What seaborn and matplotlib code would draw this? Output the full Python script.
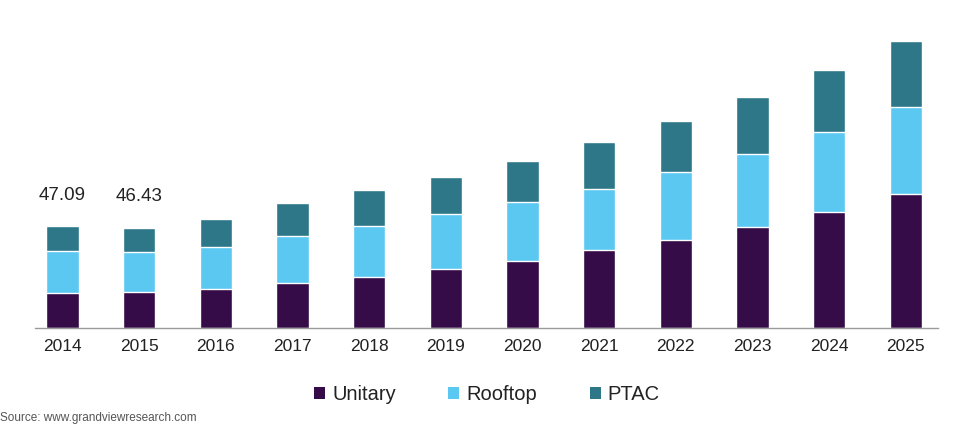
import matplotlib
matplotlib.use("Agg")
import matplotlib.pyplot as plt
import seaborn as sns
import pandas as pd
import numpy as np
from matplotlib.patches import Patch

years = ["2014", "2015", "2016", "2017", "2018", "2019", "2020", "2021", "2022", "2023", "2024", "2025"]
unitary = [16.30, 16.80, 18.2, 21.0, 23.8, 27.5, 31.2, 35.9, 40.6, 46.6, 53.6, 62.0]
rooftop = [19.10, 18.20, 19.1, 21.4, 23.3, 25.2, 27.0, 28.4, 31.7, 34.0, 37.3, 40.1]
ptac = [11.69, 11.43, 13.1, 15.4, 16.8, 17.2, 19.1, 21.9, 23.3, 26.1, 28.4, 30.8]
labeled = {"2014": "47.09", "2015": "46.43"}

series = ["Unitary", "Rooftop", "PTAC"]
colors = {"Unitary": "#350c47", "Rooftop": "#5bc8f2", "PTAC": "#2e7789"}

sns.set_theme(style="white")
plt.rcParams["font.family"] = ["Liberation Sans", "DejaVu Sans"]

df = pd.DataFrame({"year": years, "Unitary": unitary, "Rooftop": rooftop, "PTAC": ptac})
df["c1"] = df["Unitary"]
df["c2"] = df["Unitary"] + df["Rooftop"]
df["c3"] = df["c2"] + df["PTAC"]

fig = plt.figure(figsize=(9.6, 4.26), dpi=100)
ax = fig.add_axes([35 / 960, 1 - 328 / 426, (938 - 35) / 960, (328 - 20) / 426])

for col, name in [("c3", "PTAC"), ("c2", "Rooftop"), ("c1", "Unitary")]:
    sns.barplot(data=df, x="year", y=col, color=colors[name], width=0.42,
                saturation=1, ax=ax, order=years)

ax.set_xlim(-0.36, 11.42)
ax.set_ylim(0, 142.5)
ax.set_xlabel("")
ax.set_ylabel("")
ax.set_yticks([])
for s in ["top", "left", "right"]:
    ax.spines[s].set_visible(False)
ax.spines["bottom"].set_color("#9a9a9a")
ax.spines["bottom"].set_linewidth(1.0)
ax.tick_params(axis="x", length=0, pad=8, labelsize=12.5, labelcolor="#222222")

for i, y in enumerate(years):
    if y in labeled:
        ax.text(i, df["c3"].iloc[i] + 10.5, labeled[y], ha="center", va="bottom",
                fontsize=13.5, color="#222222")

handles = [Patch(facecolor=colors[n], edgecolor="none") for n in series]
fig.legend(handles, series, loc="center", bbox_to_anchor=(487 / 960, 1 - 395 / 426),
           ncol=3, frameon=False, fontsize=14.5, handlelength=0.55, handleheight=0.55,
           handletextpad=0.35, columnspacing=2.6, labelcolor="#222222")

fig.text(0.0, 2 / 426, "Source: www.grandviewresearch.com", ha="left", va="bottom",
         fontsize=8.5, color="#555555")

fig.savefig("out.png", dpi=100)
